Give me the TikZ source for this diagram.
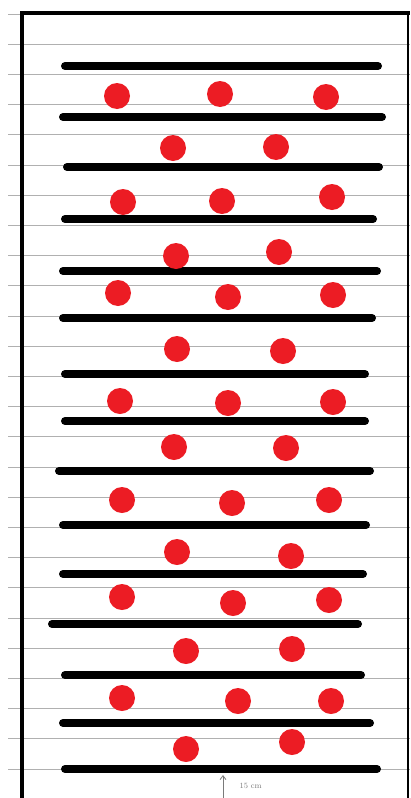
\documentclass[tikz,border=0pt]{standalone}
\usetikzlibrary{arrows.meta}
\definecolor{cred}{HTML}{EC1C24}
\definecolor{cgrey}{HTML}{B0B0B0}
\definecolor{cdark}{HTML}{7A7A7A}
\tikzset{
  every picture/.style={x=1pt, y=-1pt},
  frame/.style={draw=black, line width=4pt},
  rule/.style={draw=cgrey, line width=0.9pt},
  bar/.style={draw=black, line width=8pt, line cap=round},
  seed/.style={circle, fill=cred, minimum size=26pt, inner sep=0pt},
  note/.style={font=\fontsize{8}{9}\selectfont, text=cdark},
}

\begin{document}
\begin{tikzpicture}
  \useasboundingbox (0,0) rectangle (410,798);
  % ruled paper
  \foreach \i in {0,...,26} \draw[rule] (8,{14+30.2*\i}) -- (410,{14+30.2*\i});
  % frame
  \draw[frame] (22,798) -- (22,13) -- (410,13);
  \draw[draw=black, line width=1.6pt] (408,13) -- (408,798);
  % rows
  \foreach \y/\xa/\xb in {66/65/378, 117/63/382, 167/67/379, 219/65/373, 271/63/377,
    318/63/372, 374/65/365, 421/65/365, 471/59/370, 525/63/366, 574/63/363,
    624/52/358, 675/65/361, 723/63/370, 769/65/377}
    \draw[bar] (\xa,\y) -- (\xb,\y);
  % plants
  \foreach \x/\y [count=\n] in {117/96, 220/94, 326/97, 173/148, 276/147,
    123/202, 222/201, 332/197, 176/256, 279/252, 118/293, 228/297, 333/295,
    177/349, 283/351, 120/401, 228/403, 333/402, 174/447, 286/448,
    122/500, 232/503, 329/500, 177/552, 291/556, 122/597, 233/603, 329/600,
    186/651, 292/649, 122/698, 238/701, 331/701, 186/749, 292/742}
    \node[seed] (s\n) at (\x,\y) {};
  % spacing
  \coordinate (gapb) at (223,798);
  \coordinate (gapt) at (223,775);
  \draw[draw=cdark, line width=0.8pt, -{Straight Barb[length=4pt, width=6pt]}] (gapb) -- (gapt);
  \node[note, anchor=west] (gap) at (236,786) {15 cm};
\end{tikzpicture}
\end{document}
